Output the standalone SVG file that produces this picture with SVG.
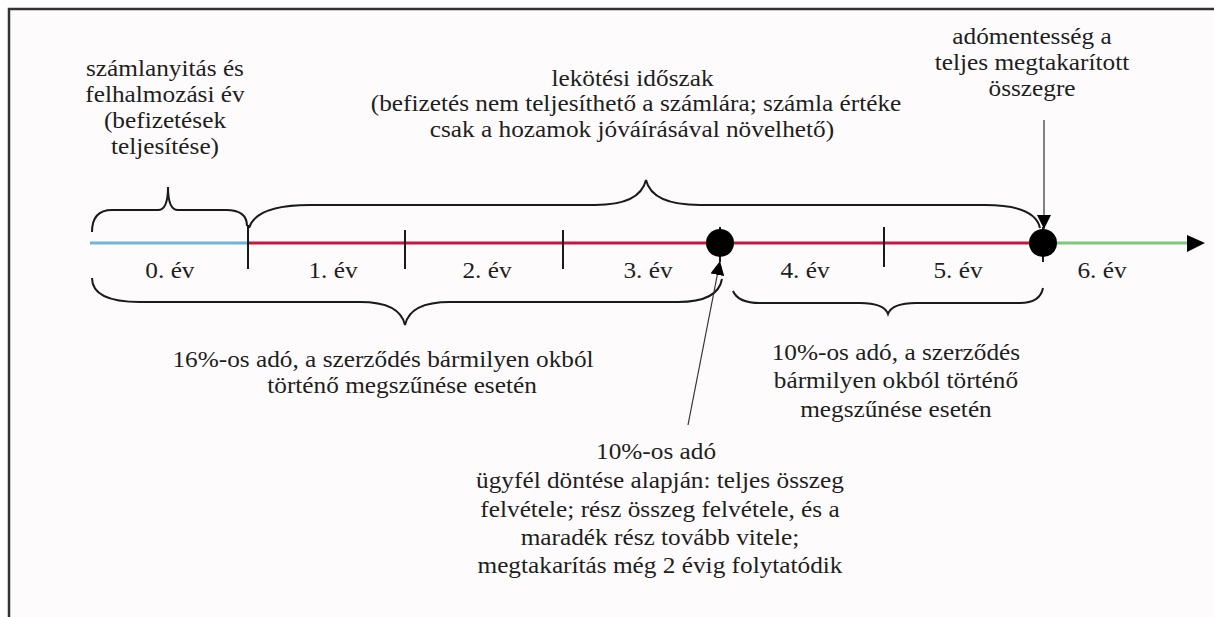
<svg xmlns="http://www.w3.org/2000/svg" width="1214" height="617" viewBox="0 0 1214 617">
<style>
text{font-family:'Liberation Serif','DejaVu Serif',serif;font-size:23px;fill:#1e1e1e}
.c{text-anchor:middle}
.br{fill:none;stroke:#1a1a1a;stroke-width:2}
.tk{stroke:#1a1a1a;stroke-width:2}
.ar{fill:none;stroke:#333;stroke-width:1.2}
</style>
<defs>
<marker id="ah" viewBox="0 0 10 10" refX="10" refY="5" markerWidth="14" markerHeight="14" markerUnits="userSpaceOnUse" orient="auto">
<path d="M0,0 L10,5 L0,10 Z" fill="#000"/>
</marker>
</defs>
<rect x="0" y="0" width="1214" height="617" fill="#fff"/>
<rect x="9" y="9" width="1205" height="608" fill="#fdfbfc"/>
<path d="M9,617 L9,9 L1214,9" fill="none" stroke="#333" stroke-width="2.5"/>

<g id="axis">
<line x1="90" y1="243" x2="248" y2="243" stroke="#6fb4d8" stroke-width="3"/>
<line x1="248" y1="243" x2="1043" y2="243" stroke="#c8163f" stroke-width="3"/>
<line x1="1043" y1="243" x2="1188" y2="243" stroke="#7cc87c" stroke-width="3"/>
<path d="M1187,235 L1205,243 L1187,252 Z" fill="#000"/>
<line class="tk" x1="248" y1="225" x2="248" y2="269"/>
<line class="tk" x1="405" y1="230" x2="405" y2="269"/>
<line class="tk" x1="563" y1="230" x2="563" y2="269"/>
<line class="tk" x1="884" y1="227" x2="884" y2="267"/>
<line class="tk" x1="720" y1="227" x2="720" y2="262"/>
<line class="tk" x1="1043" y1="227" x2="1043" y2="262"/>
</g>

<g id="dot-3">
<circle cx="720" cy="243" r="14" fill="#000"/>
</g>
<g id="dot-5">
<circle cx="1043" cy="243" r="14" fill="#000"/>
</g>

<g id="braces">
<path class="br" d="M92,232 Q92,210 112,210 L158,210 Q168,210 168,187 Q168,210 178,210 L226,210 Q247,210 247,226"/>
<path class="br" d="M249,228 Q256,205 310,205 L595,205 Q640,205 646,180 Q652,205 700,205 L985,205 Q1035,205 1040,228"/>
<path class="br" d="M92,278 Q92,302 140,302 L360,302 Q400,302 405,325 Q410,302 450,302 L678,302 Q718,302 722,279"/>
<path class="br" d="M733,291 Q738,303 760,303 L860,303 Q884,303 888,314 Q892,303 916,303 L1020,303 Q1040,303 1043,288"/>
</g>

<g id="connectors">
<line class="ar" x1="1044" y1="120" x2="1044" y2="229" marker-end="url(#ah)"/>
<line class="ar" x1="688" y1="425" x2="720" y2="261" marker-end="url(#ah)"/>
</g>

<g transform="scale(1.1 1)">
<g id="years">
<text class="c" x="154.5" y="278">0. év</text>
<text class="c" x="302.7" y="278">1. év</text>
<text class="c" x="442.7" y="278">2. év</text>
<text class="c" x="589.1" y="278">3. év</text>
<text class="c" x="731.8" y="278">4. év</text>
<text class="c" x="870.9" y="278">5. év</text>
<text class="c" x="1001.8" y="278">6. év</text>
</g>
<g id="label-accumulation">
<text class="c" x="150" y="76">számlanyitás és</text>
<text class="c" x="150" y="102">felhalmozási év</text>
<text class="c" x="150" y="128">(befizetések</text>
<text class="c" x="150" y="154">teljesítése)</text>
</g>
<g id="label-lockin">
<text class="c" x="575" y="86">lekötési időszak</text>
<text class="c" x="578.2" y="111">(befizetés nem teljesíthető a számlára; számla értéke</text>
<text class="c" x="574.5" y="137">csak a hozamok jóváírásával növelhető)</text>
</g>
<g id="label-exempt">
<text class="c" x="938.2" y="44">adómentesség a</text>
<text class="c" x="938.2" y="70">teljes megtakarított</text>
<text class="c" x="938.2" y="96">összegre</text>
</g>
<g id="label-16">
<text class="c" x="348.2" y="367">16%-os adó, a szerződés bármilyen okból</text>
<text class="c" x="365.5" y="393">történő megszűnése esetén</text>
</g>
<g id="label-10b">
<text class="c" x="814.5" y="360">10%-os adó, a szerződés</text>
<text class="c" x="814.5" y="388">bármilyen okból történő</text>
<text class="c" x="814.5" y="417">megszűnése esetén</text>
</g>
<g id="label-10a">
<text class="c" x="596.4" y="459">10%-os adó</text>
<text class="c" x="600" y="488">ügyfél döntése alapján: teljes összeg</text>
<text class="c" x="600" y="517">felvétele; rész összeg felvétele, és a</text>
<text class="c" x="600" y="545">maradék rész tovább vitele;</text>
<text class="c" x="600" y="573">megtakarítás még 2 évig folytatódik</text>
</g>
</g>
</svg>
